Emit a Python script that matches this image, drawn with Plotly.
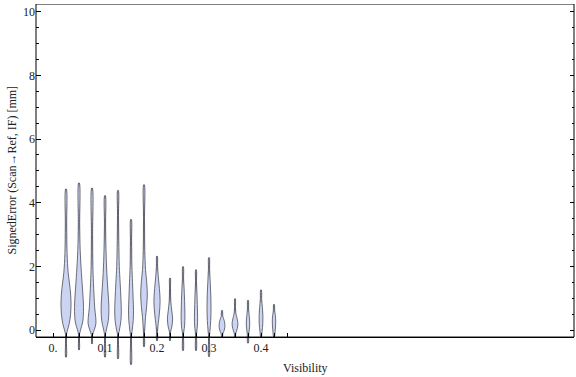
import plotly.graph_objects as go

# ---- data ----
visibility = [0.025, 0.05, 0.075, 0.1, 0.125, 0.15, 0.175, 0.2, 0.225,
              0.25, 0.275, 0.3, 0.325, 0.35, 0.375, 0.4, 0.425]

# signed error levels (mm) along each violin, bottom (min) -> top (max)
error_levels = [
    [-0.85, -0.15, 0.0, 0.2, 0.5, 0.9, 1.3, 1.8, 2.4, 3.3, 4.43],
    [-0.62, -0.15, 0.0, 0.25, 0.7, 1.2, 1.8, 2.5, 3.3, 4.62],
    [-0.43, -0.15, 0.0, 0.2, 0.4, 0.7, 1.1, 1.5, 2.0, 3.0, 4.46],
    [-0.85, -0.15, 0.0, 0.3, 0.7, 1.2, 1.8, 2.5, 3.3, 4.22],
    [-0.9, -0.15, 0.0, 0.3, 0.6, 1.0, 1.5, 2.0, 2.8, 3.6, 4.38],
    [-1.08, -0.2, 0.0, 0.3, 0.6, 1.0, 1.5, 2.0, 2.8, 3.47],
    [-0.52, -0.1, 0.1, 0.4, 0.7, 1.1, 1.5, 1.9, 2.5, 3.5, 4.56],
    [-0.33, 0.0, 0.2, 0.5, 0.9, 1.3, 1.7, 2.0, 2.32],
    [-0.33, -0.05, 0.1, 0.35, 0.6, 0.9, 1.3, 1.63],
    [-0.64, -0.1, 0.1, 0.5, 0.9, 1.3, 1.6, 1.99],
    [-0.64, -0.1, 0.1, 0.4, 0.8, 1.2, 1.5, 1.89],
    [-0.83, -0.2, 0.0, 0.3, 0.7, 1.1, 1.5, 1.9, 2.27],
    [-0.22, -0.1, 0.0, 0.15, 0.3, 0.42, 0.61],
    [-0.22, -0.1, 0.05, 0.2, 0.35, 0.5, 0.7, 0.98],
    [-0.41, -0.1, 0.1, 0.25, 0.45, 0.65, 0.93],
    [-0.22, -0.05, 0.2, 0.45, 0.7, 0.95, 1.26],
    [-0.22, 0.0, 0.25, 0.45, 0.6, 0.8],
]

# relative density at each level (same length as error_levels rows)
error_density = [
    [0.3, 0.5, 1.5, 3.2, 4.6, 5.0, 4.1, 2.2, 1.1, 0.7, 0.3],
    [0.3, 0.5, 1.5, 3.7, 4.5, 3.7, 2.4, 1.2, 0.7, 0.3],
    [0.3, 0.6, 2.2, 3.9, 3.7, 2.7, 2.0, 1.4, 0.9, 0.6, 0.3],
    [0.3, 0.5, 1.3, 3.3, 3.9, 3.0, 1.8, 1.0, 0.6, 0.3],
    [0.3, 0.5, 1.4, 2.9, 3.3, 2.9, 2.1, 1.3, 0.8, 0.5, 0.3],
    [0.3, 0.5, 1.2, 2.2, 2.5, 2.1, 1.5, 0.9, 0.6, 0.3],
    [0.3, 0.5, 0.9, 1.5, 2.5, 3.3, 2.7, 1.5, 0.8, 0.5, 0.3],
    [0.3, 0.6, 1.2, 2.3, 3.1, 2.4, 1.2, 0.6, 0.3],
    [0.3, 0.6, 1.8, 2.6, 1.8, 0.8, 0.5, 0.3],
    [0.3, 0.6, 1.5, 1.9, 1.6, 1.1, 0.6, 0.3],
    [0.3, 0.6, 1.3, 1.6, 1.3, 0.9, 0.5, 0.3],
    [0.3, 0.5, 1.0, 1.7, 2.0, 1.8, 1.2, 0.6, 0.3],
    [0.3, 1.0, 2.3, 2.9, 2.2, 0.9, 0.3],
    [0.3, 0.8, 2.3, 2.9, 2.2, 1.0, 0.5, 0.3],
    [0.3, 0.8, 1.6, 1.7, 1.2, 0.6, 0.3],
    [0.3, 1.0, 1.8, 1.9, 1.4, 0.7, 0.3],
    [0.3, 1.2, 1.7, 1.4, 0.7, 0.3],
]

x_tick_values = [0.0, 0.025, 0.05, 0.075, 0.1, 0.125, 0.15, 0.175, 0.2, 0.225,
                 0.25, 0.275, 0.3, 0.325, 0.35, 0.375, 0.4, 0.425, 0.45]
x_tick_labels = ["0.", "", "", "", "0.1", "", "", "", "0.2", "",
                 "", "", "0.3", "", "", "", "0.4", "", ""]
y_tick_values = [0, 2, 4, 6, 8, 10]
y_tick_labels = ["0", "2", "4", "6", "8", "10"]
y_minor_ticks = [0.5, 1, 1.5, 2.5, 3, 3.5, 4.5, 5, 5.5, 6.5, 7, 7.5, 8.5, 9, 9.5]
x_title = "Visibility"
y_title = "SignedError (Scan\u2192Ref, IF) [mm]"

# ---- styling ----
W, H = 576, 377
ML, MR, MT, MB = 36, 2, 4, 11          # plot area extends below the frame so tails show
X_RANGE = [-0.0327, 1.0019]
Y_TOP = 10.24
FRAME_BOTTOM = -0.22
PX_PER_Y = 31.84
PW, PH = W - ML - MR, H - MT - MB
Y_RANGE = [Y_TOP - PH / PX_PER_Y, Y_TOP]
FRAME_POS = (FRAME_BOTTOM - Y_RANGE[0]) / (Y_RANGE[1] - Y_RANGE[0])
x_per_density = (X_RANGE[1] - X_RANGE[0]) / PW  # density unit = 1 px
FILL = "rgb(204,212,244)"
EDGE = "rgba(70,70,78,0.85)"
TAIL = "rgba(60,60,66,0.9)"
FONT = "Liberation Serif"
TXT = "#222"

fig = go.Figure()
for pos, lv, dn in zip(visibility, error_levels, error_density):
    # whisker (min -> max)
    fig.add_trace(go.Scatter(
        x=[pos, pos], y=[lv[0], lv[-1]], mode="lines",
        line=dict(color=TAIL, width=1.4), hoverinfo="skip", showlegend=False))
    right_x = [pos + d * x_per_density for d in dn]
    left_x = [pos - d * x_per_density for d in dn]
    xs = right_x + left_x[::-1] + [right_x[0]]
    ys = lv + lv[::-1] + [lv[0]]
    fig.add_trace(go.Scatter(
        x=xs, y=ys, mode="lines", fill="toself", fillcolor=FILL,
        line=dict(color=EDGE, width=0.9, shape="spline", smoothing=1.0),
        hoverinfo="skip", showlegend=False))

frame_center = FRAME_POS + (1 - FRAME_POS) / 2
fig.update_layout(
    width=W, height=H,
    margin=dict(l=ML, r=MR, t=MT, b=MB, autoexpand=False),
    paper_bgcolor="white", plot_bgcolor="white",
    font=dict(family=FONT, size=12, color=TXT),
    showlegend=False,
    shapes=[dict(type="rect", xref="paper", yref="y", x0=0, x1=1,
                 y0=FRAME_BOTTOM, y1=Y_TOP, line=dict(color="black", width=1),
                 fillcolor="rgba(0,0,0,0)", layer="above")],
    annotations=[
        dict(text=x_title, xref="paper", yref="paper", x=0.5, y=(H - MB - 368) / PH,
             xanchor="center", yanchor="middle", showarrow=False,
             font=dict(family=FONT, size=12, color=TXT)),
        dict(text=y_title, xref="paper", yref="paper", x=(12 - ML) / PW, y=frame_center,
             xanchor="center", yanchor="middle", showarrow=False, textangle=-90,
             font=dict(family=FONT, size=12, color=TXT)),
    ],
)
fig.update_xaxes(
    range=X_RANGE, showgrid=False, zeroline=False, automargin=False,
    anchor="free", position=FRAME_POS,
    showline=True, linecolor="black", linewidth=1, mirror="ticks",
    ticks="inside", ticklen=4, tickcolor="black", tickwidth=1,
    tickmode="array", tickvals=x_tick_values, ticktext=x_tick_labels,
    tickfont=dict(family=FONT, size=12, color=TXT),
)
fig.update_yaxes(
    range=Y_RANGE, showgrid=False, zeroline=False, automargin=False,
    showline=False, mirror="ticks",
    ticks="inside", ticklen=4.5, tickcolor="black", tickwidth=1,
    tickmode="array", tickvals=y_tick_values, ticktext=y_tick_labels,
    minor=dict(tickvals=y_minor_ticks, ticks="inside", ticklen=2.5,
               tickcolor="black", showgrid=False),
    tickfont=dict(family=FONT, size=12, color=TXT),
)

fig.write_html("out.html", config={"displayModeBar": False},
               post_script="document.body.style.margin='0';document.body.style.padding='0';")
